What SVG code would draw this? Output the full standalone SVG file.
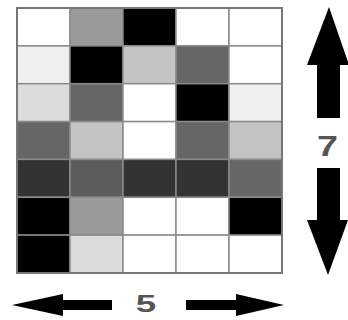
<svg xmlns="http://www.w3.org/2000/svg" width="348" height="320" viewBox="0 0 348 320">
<style>
.c{stroke:#8a8a8a;stroke-width:1.5}
.arrow{fill:#000}
.lbl{font-family:"Liberation Sans",Arial,sans-serif;font-weight:bold;fill:#555}
</style>
<rect width="348" height="320" fill="#fff"/>
<g id="grid">
<rect class="c" x="17" y="8" width="53" height="37.9" fill="#fff"/>
<rect class="c" x="70" y="8" width="53" height="37.9" fill="#9a9a9a"/>
<rect class="c" x="123" y="8" width="53" height="37.9" fill="#000"/>
<rect class="c" x="176" y="8" width="53" height="37.9" fill="#fff"/>
<rect class="c" x="229" y="8" width="53" height="37.9" fill="#fff"/>

<rect class="c" x="17" y="45.9" width="53" height="37.9" fill="#efefef"/>
<rect class="c" x="70" y="45.9" width="53" height="37.9" fill="#000"/>
<rect class="c" x="123" y="45.9" width="53" height="37.9" fill="#c4c4c4"/>
<rect class="c" x="176" y="45.9" width="53" height="37.9" fill="#666"/>
<rect class="c" x="229" y="45.9" width="53" height="37.9" fill="#fff"/>

<rect class="c" x="17" y="83.7" width="53" height="37.9" fill="#dcdcdc"/>
<rect class="c" x="70" y="83.7" width="53" height="37.9" fill="#666"/>
<rect class="c" x="123" y="83.7" width="53" height="37.9" fill="#fff"/>
<rect class="c" x="176" y="83.7" width="53" height="37.9" fill="#000"/>
<rect class="c" x="229" y="83.7" width="53" height="37.9" fill="#efefef"/>

<rect class="c" x="17" y="121.6" width="53" height="37.9" fill="#666"/>
<rect class="c" x="70" y="121.6" width="53" height="37.9" fill="#c4c4c4"/>
<rect class="c" x="123" y="121.6" width="53" height="37.9" fill="#fff"/>
<rect class="c" x="176" y="121.6" width="53" height="37.9" fill="#666"/>
<rect class="c" x="229" y="121.6" width="53" height="37.9" fill="#c4c4c4"/>

<rect class="c" x="17" y="159.4" width="53" height="37.9" fill="#333"/>
<rect class="c" x="70" y="159.4" width="53" height="37.9" fill="#5c5c5c"/>
<rect class="c" x="123" y="159.4" width="53" height="37.9" fill="#333"/>
<rect class="c" x="176" y="159.4" width="53" height="37.9" fill="#333"/>
<rect class="c" x="229" y="159.4" width="53" height="37.9" fill="#666"/>

<rect class="c" x="17" y="197.3" width="53" height="37.9" fill="#000"/>
<rect class="c" x="70" y="197.3" width="53" height="37.9" fill="#9a9a9a"/>
<rect class="c" x="123" y="197.3" width="53" height="37.9" fill="#fff"/>
<rect class="c" x="176" y="197.3" width="53" height="37.9" fill="#fff"/>
<rect class="c" x="229" y="197.3" width="53" height="37.9" fill="#000"/>

<rect class="c" x="17" y="235.1" width="53" height="37.9" fill="#000"/>
<rect class="c" x="70" y="235.1" width="53" height="37.9" fill="#dcdcdc"/>
<rect class="c" x="123" y="235.1" width="53" height="37.9" fill="#fff"/>
<rect class="c" x="176" y="235.1" width="53" height="37.9" fill="#fff"/>
<rect class="c" x="229" y="235.1" width="53" height="37.9" fill="#fff"/>
<rect x="17" y="8" width="265" height="265" fill="none" stroke="#777" stroke-width="2"/>
</g>
<g id="arrows">
<polygon class="arrow" points="329,7 349,65 340,65 340,118 317,118 317,65 307,65"/>
<polygon class="arrow" points="317,168 340,168 340,220 348,220 328,275 307,220 317,220"/>
<polygon class="arrow" points="12,305 63,294 63,300 112,300 112,310 63,310 63,316"/>
<polygon class="arrow" points="284,305 236,294 236,300 186,300 186,310 236,310 236,316"/>
</g>
<g id="labels">
<text class="lbl" transform="translate(327.5,155.5) scale(1.3,1)" text-anchor="middle" font-size="29">7</text>
<text class="lbl" transform="translate(146,312) scale(1.6,1)" text-anchor="middle" font-size="23">5</text>
</g>
</svg>
